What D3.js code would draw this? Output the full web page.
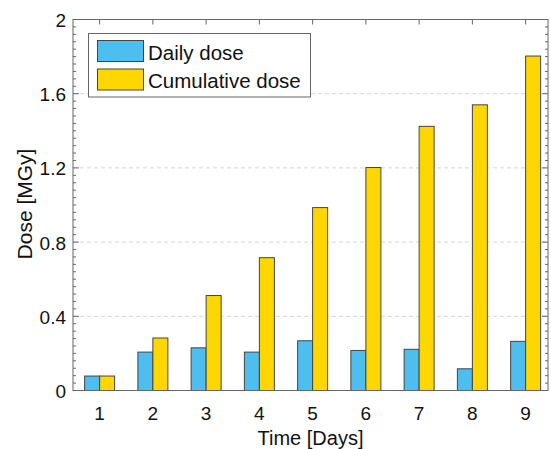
<!DOCTYPE html>
<html lang="en">
<head>
<meta charset="utf-8">
<title>Daily and cumulative dose</title>
<style>
 body { margin: 0; background: #fff; font-family: Arial, "Liberation Sans", sans-serif; }
</style>
<script src="https://d3js.org/d3.v7.min.js"></script>
</head>
<body>
<div id="chart"></div>
<script>
 // Data
 const days = [1, 2, 3, 4, 5, 6, 7, 8, 9];
 const dailyDose = [0.078, 0.207, 0.230, 0.207, 0.268, 0.216, 0.222, 0.117, 0.265];
 const cumulativeDose = [0.078, 0.283, 0.512, 0.716, 0.986, 1.202, 1.424, 1.540, 1.803];
 const yTicks = [0, 0.4, 0.8, 1.2, 1.6, 2];
 const seriesNames = ['Daily dose', 'Cumulative dose'];
 const colors = ['#4DBEEE', '#FFD700'];

 const W = 551, H = 449;
 const pLeft = 73, pRight = 548, pTop = 19.5, pBottom = 390.5;

 const svg = d3.select('#chart').append('svg')
     .attr('width', W).attr('height', H);

 const x = d3.scaleLinear().domain([0.5, 9.42]).range([pLeft, pRight]);
 const y = d3.scaleLinear().domain([0, 2]).range([pBottom, pTop]);
 const barW = 15;

 // grid
 svg.append('g').selectAll('line')
     .data(yTicks.filter(d => d > 0 && d < 2))
     .enter().append('line')
     .attr('x1', pLeft).attr('x2', pRight)
     .attr('y1', d => y(d)).attr('y2', d => y(d))
     .attr('stroke', '#d4d4d4').attr('stroke-dasharray', '4,3');

 // bars
 const series = [dailyDose, cumulativeDose];
 series.forEach((vals, s) => {
     svg.append('g').selectAll('rect')
	 .data(vals)
	 .enter().append('rect')
	 .attr('x', (d, i) => x(days[i]) + (s === 0 ? -barW : 0))
	 .attr('y', d => y(d))
	 .attr('width', barW)
	 .attr('height', d => y(0) - y(d))
	 .attr('fill', colors[s])
	 .attr('stroke', '#444')
	 .attr('stroke-width', 1);
 });

 // frame + ticks
 const axisColor = '#666';
 const minor = d3.range(0, 2.0001, 0.04);
 const fr = svg.append('g').attr('stroke', axisColor).attr('fill', 'none');
 fr.append('rect').attr('x', pLeft).attr('y', pTop)
     .attr('width', pRight - pLeft).attr('height', pBottom - pTop);

 // left / right minor + major ticks (inward)
 minor.forEach(v => {
     const isMajor = yTicks.some(t => Math.abs(t - v) < 1e-6);
     const len = isMajor ? 6 : 3;
     fr.append('line').attr('x1', pLeft).attr('x2', pLeft + len)
	 .attr('y1', y(v)).attr('y2', y(v));
     fr.append('line').attr('x1', pRight).attr('x2', pRight - len)
	 .attr('y1', y(v)).attr('y2', y(v));
 });
 // top category ticks
 days.forEach(d => {
     fr.append('line').attr('x1', x(d)).attr('x2', x(d))
	 .attr('y1', pTop).attr('y2', pTop + 5);
 });

 // tick labels
 svg.append('g').selectAll('text')
     .data(yTicks)
     .enter().append('text')
     .attr('x', pLeft - 7).attr('y', d => y(d) + 7.5)
     .attr('text-anchor', 'end')
     .attr('font-size', 19)
     .attr('fill', '#111')
     .text(d => d3.format('~g')(d));

 svg.append('g').selectAll('text')
     .data(days)
     .enter().append('text')
     .attr('x', d => x(d)).attr('y', 420)
     .attr('text-anchor', 'middle')
     .attr('font-size', 19)
     .attr('fill', '#111')
     .text(d => d);

 // axis titles
 svg.append('text')
     .attr('x', (pLeft + pRight) / 2).attr('y', 445)
     .attr('text-anchor', 'middle')
     .attr('font-size', 20)
     .attr('fill', '#111')
     .text('Time [Days]');

 svg.append('text')
     .attr('transform', 'translate(31.5,204)rotate(-90)')
     .attr('text-anchor', 'middle')
     .attr('font-size', 21)
     .attr('fill', '#111')
     .text('Dose [MGy]');

 // legend
 const lg = svg.append('g');
 lg.append('rect').attr('x', 88.5).attr('y', 33.5)
     .attr('width', 222).attr('height', 63.5)
     .attr('fill', '#fff').attr('stroke', axisColor);
 seriesNames.forEach((name, i) => {
     const yy = 40.5 + i * 28.5;
     lg.append('rect').attr('x', 97.5).attr('y', yy)
	 .attr('width', 46).attr('height', 21)
	 .attr('fill', colors[i]).attr('stroke', '#444');
     lg.append('text').attr('x', 148).attr('y', yy + 19)
	 .attr('font-size', 20.5)
	 .attr('fill', '#111')
	 .text(name);
 });
</script>
</body>
</html>
